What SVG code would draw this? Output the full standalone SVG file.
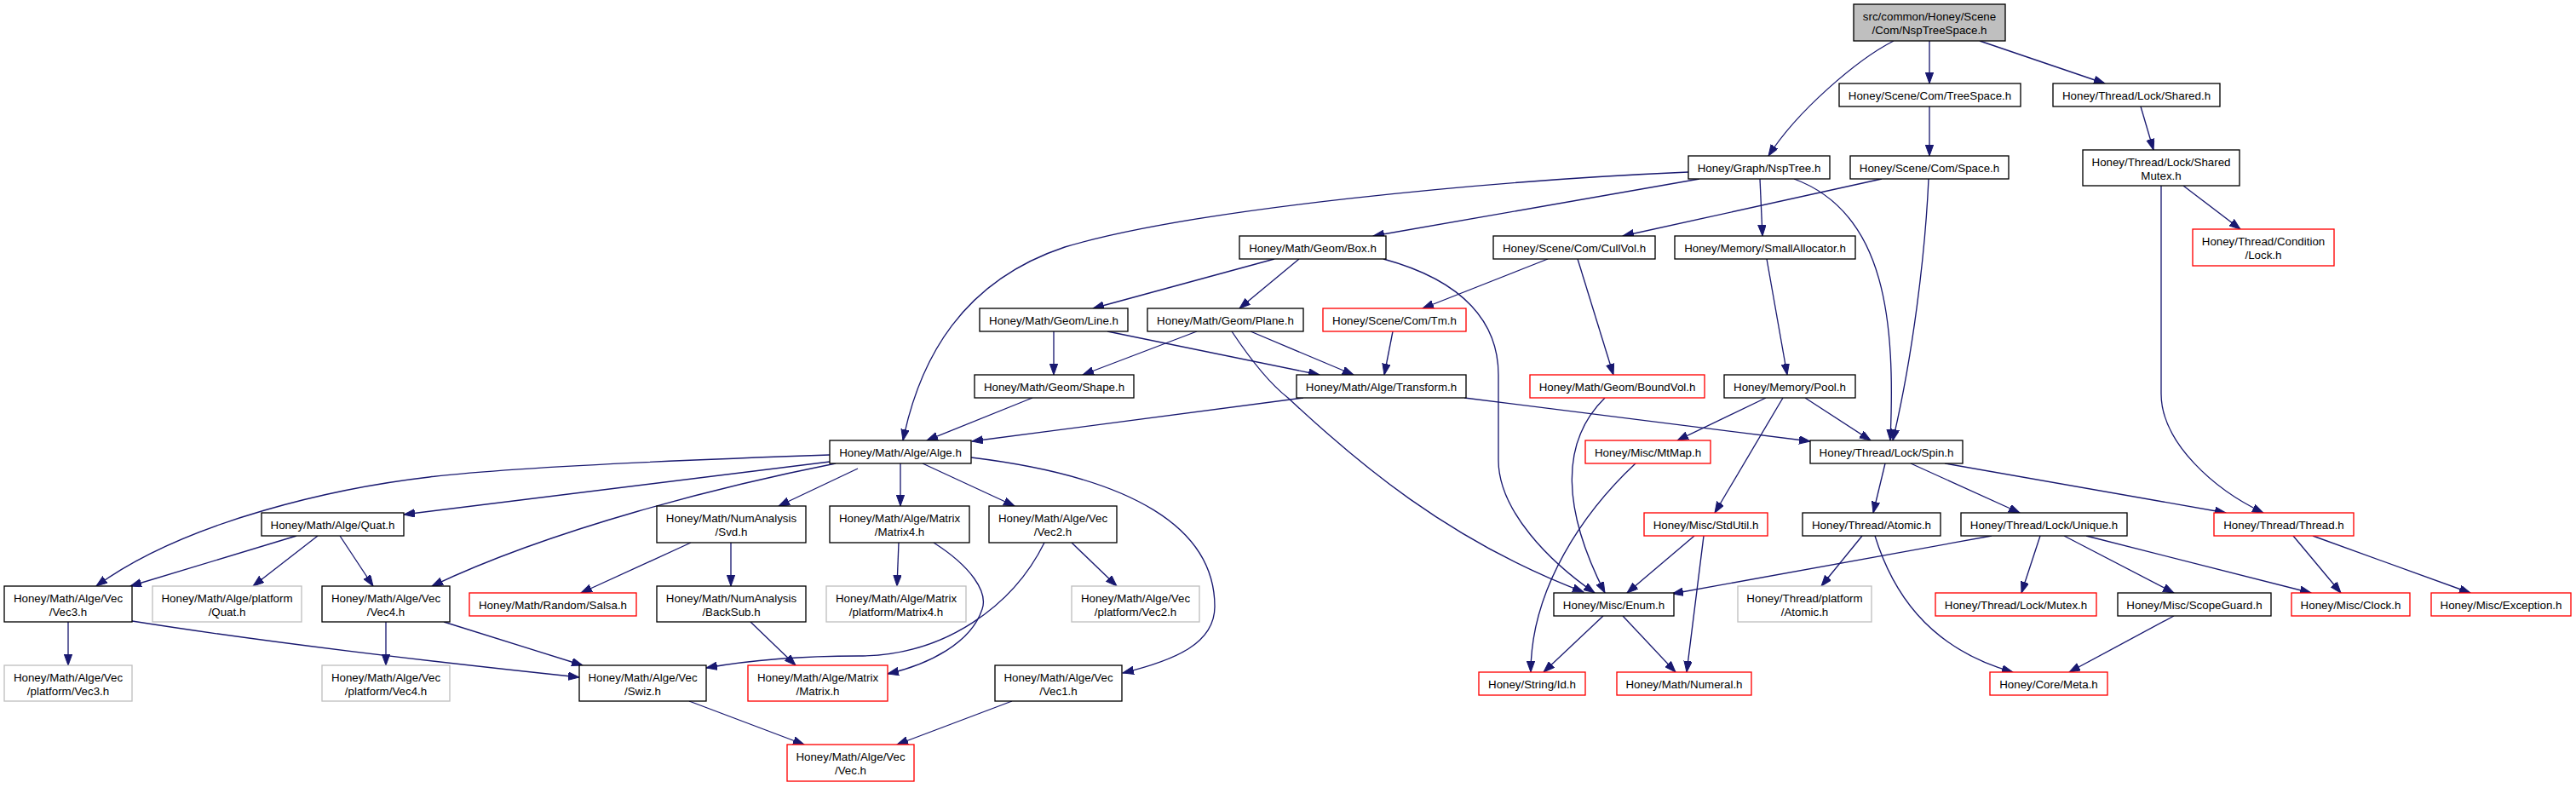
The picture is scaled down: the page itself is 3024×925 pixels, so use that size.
<svg xmlns="http://www.w3.org/2000/svg" width="3024" height="925" viewBox="0 0 3024 925">
<defs>
<marker id="ah" markerUnits="userSpaceOnUse" markerWidth="14" markerHeight="10" refX="13" refY="4.7" orient="auto">
<path d="M0,0 L13,4.7 L0,9.4 z" fill="#191970" stroke="#191970" stroke-width="1"/>
</marker>
</defs>
<style>
rect{fill:#fff;stroke:#000;stroke-width:1.33}
.r rect{stroke:#ff0000}
.g rect{stroke:#bfbfbf}
.root rect{fill:#bfbfbf}
text{font-family:"Liberation Sans",Arial,Helvetica,sans-serif;font-size:13.33px;text-anchor:middle;fill:#000}
#edges path{fill:none;stroke:#191970;stroke-width:1.33;marker-end:url(#ah)}
</style>
<rect x="0" y="0" width="3024" height="925" style="fill:#fff;stroke:none"/>
<g id="edges">
<path d="M2223,48 C2180,70 2110,130 2076,183"/>
<path d="M2265,48 L2265,98"/>
<path d="M2324,48 L2471,98"/>
<path d="M2265,125 L2265,183"/>
<path d="M2513,125 L2528,176"/>
<path d="M2563,218 L2630,269"/>
<path d="M2537,218 L2537,462 C2537,520 2600,575 2657,602"/>
<path d="M1982,202 C1750,212 1400,245 1250,290 C1130,330 1080,420 1060,517"/>
<path d="M1995,210 L1612,277"/>
<path d="M2066,210 L2069,277"/>
<path d="M2106,210 C2215,250 2225,380 2219,517"/>
<path d="M2209,210 L1905,277"/>
<path d="M2264,210 C2260,300 2245,420 2222,517"/>
<path d="M1496,304 L1283,362"/>
<path d="M1525,304 L1455,362"/>
<path d="M1624,304 C1720,330 1759,380 1759,440 L1759,540 C1759,600 1820,660 1872,696"/>
<path d="M1817,304 L1670,362"/>
<path d="M1852,304 L1894,440"/>
<path d="M2074,304 L2098,440"/>
<path d="M1237,389 L1237,440"/>
<path d="M1300,389 L1549,440"/>
<path d="M1405,389 L1271,440"/>
<path d="M1468,389 L1589,440"/>
<path d="M1446,389 C1470,425 1490,450 1512,467 C1590,540 1700,635 1859,695"/>
<path d="M1635,389 L1625,440"/>
<path d="M1884,467 C1830,520 1835,600 1884,696"/>
<path d="M2073,467 L1969,517"/>
<path d="M2119,467 L2196,517"/>
<path d="M2093,467 L2013,602"/>
<path d="M1212,467 L1088,517"/>
<path d="M1530,467 L1141,518"/>
<path d="M1719,467 L2125,518"/>
<path d="M974,534 C800,540 600,548 504,560 C400,572 220,610 113,688"/>
<path d="M974,542 L474,604"/>
<path d="M981,544 C850,570 650,620 507,688"/>
<path d="M1007,550 L914,594"/>
<path d="M1057,544 L1057,594"/>
<path d="M1083,544 L1191,594"/>
<path d="M1140,537 C1330,560 1426,620 1426,712 C1426,755 1380,775 1318,790"/>
<path d="M348,629 L153,688"/>
<path d="M373,629 L297,688"/>
<path d="M399,629 L438,688"/>
<path d="M80,730 L80,781"/>
<path d="M155,729 C300,752 500,776 680,795"/>
<path d="M453,730 L453,781"/>
<path d="M521,730 L684,781"/>
<path d="M811,637 L682,696"/>
<path d="M858,637 L858,688"/>
<path d="M881,730 L934,781"/>
<path d="M1055,637 L1053,688"/>
<path d="M1096,637 C1140,665 1160,695 1153,715 C1140,755 1090,780 1042,791"/>
<path d="M1226,637 C1190,710 1110,770 1008,770 C940,770 880,775 829,784"/>
<path d="M1258,637 L1311,688"/>
<path d="M809,823 L944,874"/>
<path d="M1188,823 L1053,874"/>
<path d="M1920,544 C1860,600 1797,690 1797,789"/>
<path d="M1989,629 L1910,696"/>
<path d="M2000,629 L1980,789"/>
<path d="M1882,723 L1812,789"/>
<path d="M1905,723 L1967,789"/>
<path d="M2213,544 L2199,602"/>
<path d="M2243,544 L2371,602"/>
<path d="M2283,544 L2613,602"/>
<path d="M2186,629 L2138,688"/>
<path d="M2201,629 C2220,690 2260,760 2363,789"/>
<path d="M2338,629 L1963,697"/>
<path d="M2395,629 L2373,696"/>
<path d="M2423,629 L2552,696"/>
<path d="M2449,629 L2713,696"/>
<path d="M2552,723 L2429,789"/>
<path d="M2692,629 L2748,696"/>
<path d="M2715,629 L2900,696"/>
</g>
<g id="root" class="root"><rect x="2176" y="5" width="178" height="43"/><text x="2265" y="24">src/common/Honey/Scene</text><text x="2265" y="40">/Com/NspTreeSpace.h</text></g>
<g id="treespace"><rect x="2159" y="98" width="213" height="27"/><text x="2265.5" y="116.5">Honey/Scene/Com/TreeSpace.h</text></g>
<g id="shared"><rect x="2410" y="98" width="196" height="27"/><text x="2508" y="116.5">Honey/Thread/Lock/Shared.h</text></g>
<g id="nsptree"><rect x="1982" y="183" width="166" height="27"/><text x="2065" y="201.5">Honey/Graph/NspTree.h</text></g>
<g id="space"><rect x="2172" y="183" width="186" height="27"/><text x="2265" y="201.5">Honey/Scene/Com/Space.h</text></g>
<g id="sharedmutex"><rect x="2445" y="176" width="184" height="42"/><text x="2537" y="195">Honey/Thread/Lock/Shared</text><text x="2537" y="211">Mutex.h</text></g>
<g id="condlock" class="r"><rect x="2574" y="269" width="166" height="43"/><text x="2657" y="288">Honey/Thread/Condition</text><text x="2657" y="304">/Lock.h</text></g>
<g id="smallalloc"><rect x="1966" y="277" width="212" height="27"/><text x="2072" y="295.5">Honey/Memory/SmallAllocator.h</text></g>
<g id="box"><rect x="1455" y="277" width="172" height="27"/><text x="1541" y="295.5">Honey/Math/Geom/Box.h</text></g>
<g id="cullvol"><rect x="1753" y="277" width="190" height="27"/><text x="1848" y="295.5">Honey/Scene/Com/CullVol.h</text></g>
<g id="tm" class="r"><rect x="1553" y="362" width="168" height="27"/><text x="1637" y="380.5">Honey/Scene/Com/Tm.h</text></g>
<g id="line"><rect x="1150" y="362" width="174" height="27"/><text x="1237" y="380.5">Honey/Math/Geom/Line.h</text></g>
<g id="plane"><rect x="1347" y="362" width="183" height="27"/><text x="1438.5" y="380.5">Honey/Math/Geom/Plane.h</text></g>
<g id="shape"><rect x="1144" y="440" width="187" height="27"/><text x="1237.5" y="458.5">Honey/Math/Geom/Shape.h</text></g>
<g id="transform"><rect x="1522" y="440" width="199" height="27"/><text x="1621.5" y="458.5">Honey/Math/Alge/Transform.h</text></g>
<g id="boundvol" class="r"><rect x="1796" y="440" width="205" height="27"/><text x="1898.5" y="458.5">Honey/Math/Geom/BoundVol.h</text></g>
<g id="pool"><rect x="2024" y="440" width="154" height="27"/><text x="2101" y="458.5">Honey/Memory/Pool.h</text></g>
<g id="alge"><rect x="974" y="517" width="166" height="27"/><text x="1057" y="535.5">Honey/Math/Alge/Alge.h</text></g>
<g id="mtmap" class="r"><rect x="1861" y="517" width="147" height="27"/><text x="1934.5" y="535.5">Honey/Misc/MtMap.h</text></g>
<g id="spin"><rect x="2125" y="517" width="179" height="27"/><text x="2214.5" y="535.5">Honey/Thread/Lock/Spin.h</text></g>
<g id="quat"><rect x="307" y="602" width="167" height="27"/><text x="390.5" y="620.5">Honey/Math/Alge/Quat.h</text></g>
<g id="svd"><rect x="771" y="594" width="175" height="43"/><text x="858.5" y="613">Honey/Math/NumAnalysis</text><text x="858.5" y="629">/Svd.h</text></g>
<g id="matrix4"><rect x="974" y="594" width="164" height="43"/><text x="1056" y="613">Honey/Math/Alge/Matrix</text><text x="1056" y="629">/Matrix4.h</text></g>
<g id="vec2"><rect x="1161" y="594" width="150" height="43"/><text x="1236" y="613">Honey/Math/Alge/Vec</text><text x="1236" y="629">/Vec2.h</text></g>
<g id="stdutil" class="r"><rect x="1930" y="602" width="145" height="27"/><text x="2002.5" y="620.5">Honey/Misc/StdUtil.h</text></g>
<g id="atomic"><rect x="2116" y="602" width="162" height="27"/><text x="2197" y="620.5">Honey/Thread/Atomic.h</text></g>
<g id="unique"><rect x="2302" y="602" width="195" height="27"/><text x="2399.5" y="620.5">Honey/Thread/Lock/Unique.h</text></g>
<g id="thread" class="r"><rect x="2599" y="602" width="164" height="27"/><text x="2681" y="620.5">Honey/Thread/Thread.h</text></g>
<g id="vec3"><rect x="5" y="688" width="150" height="42"/><text x="80" y="707">Honey/Math/Alge/Vec</text><text x="80" y="723">/Vec3.h</text></g>
<g id="pquat" class="g"><rect x="179" y="688" width="175" height="42"/><text x="266.5" y="707">Honey/Math/Alge/platform</text><text x="266.5" y="723">/Quat.h</text></g>
<g id="vec4"><rect x="378" y="688" width="150" height="42"/><text x="453" y="707">Honey/Math/Alge/Vec</text><text x="453" y="723">/Vec4.h</text></g>
<g id="salsa" class="r"><rect x="551" y="696" width="196" height="27"/><text x="649" y="714.5">Honey/Math/Random/Salsa.h</text></g>
<g id="backsub"><rect x="771" y="688" width="175" height="42"/><text x="858.5" y="707">Honey/Math/NumAnalysis</text><text x="858.5" y="723">/BackSub.h</text></g>
<g id="pmatrix4" class="g"><rect x="970" y="688" width="164" height="42"/><text x="1052" y="707">Honey/Math/Alge/Matrix</text><text x="1052" y="723">/platform/Matrix4.h</text></g>
<g id="pvec2" class="g"><rect x="1258" y="688" width="150" height="42"/><text x="1333" y="707">Honey/Math/Alge/Vec</text><text x="1333" y="723">/platform/Vec2.h</text></g>
<g id="enum"><rect x="1824" y="696" width="141" height="27"/><text x="1894.5" y="714.5">Honey/Misc/Enum.h</text></g>
<g id="patomic" class="g"><rect x="2040" y="688" width="157" height="42"/><text x="2118.5" y="707">Honey/Thread/platform</text><text x="2118.5" y="723">/Atomic.h</text></g>
<g id="mutex" class="r"><rect x="2272" y="696" width="189" height="27"/><text x="2366.5" y="714.5">Honey/Thread/Lock/Mutex.h</text></g>
<g id="scopeguard"><rect x="2486" y="696" width="180" height="27"/><text x="2576" y="714.5">Honey/Misc/ScopeGuard.h</text></g>
<g id="clock" class="r"><rect x="2690" y="696" width="139" height="27"/><text x="2759.5" y="714.5">Honey/Misc/Clock.h</text></g>
<g id="exception" class="r"><rect x="2854" y="696" width="164" height="27"/><text x="2936" y="714.5">Honey/Misc/Exception.h</text></g>
<g id="pvec3" class="g"><rect x="5" y="781" width="150" height="42"/><text x="80" y="800">Honey/Math/Alge/Vec</text><text x="80" y="816">/platform/Vec3.h</text></g>
<g id="pvec4" class="g"><rect x="378" y="781" width="150" height="42"/><text x="453" y="800">Honey/Math/Alge/Vec</text><text x="453" y="816">/platform/Vec4.h</text></g>
<g id="swiz"><rect x="680" y="781" width="149" height="42"/><text x="754.5" y="800">Honey/Math/Alge/Vec</text><text x="754.5" y="816">/Swiz.h</text></g>
<g id="matrix" class="r"><rect x="878" y="781" width="164" height="42"/><text x="960" y="800">Honey/Math/Alge/Matrix</text><text x="960" y="816">/Matrix.h</text></g>
<g id="vec1"><rect x="1168" y="781" width="149" height="42"/><text x="1242.5" y="800">Honey/Math/Alge/Vec</text><text x="1242.5" y="816">/Vec1.h</text></g>
<g id="id" class="r"><rect x="1736" y="789" width="125" height="27"/><text x="1798.5" y="807.5">Honey/String/Id.h</text></g>
<g id="numeral" class="r"><rect x="1898" y="789" width="158" height="27"/><text x="1977" y="807.5">Honey/Math/Numeral.h</text></g>
<g id="meta" class="r"><rect x="2336" y="789" width="138" height="27"/><text x="2405" y="807.5">Honey/Core/Meta.h</text></g>
<g id="vec" class="r"><rect x="924" y="874" width="149" height="43"/><text x="998.5" y="893">Honey/Math/Alge/Vec</text><text x="998.5" y="909">/Vec.h</text></g>
</svg>
